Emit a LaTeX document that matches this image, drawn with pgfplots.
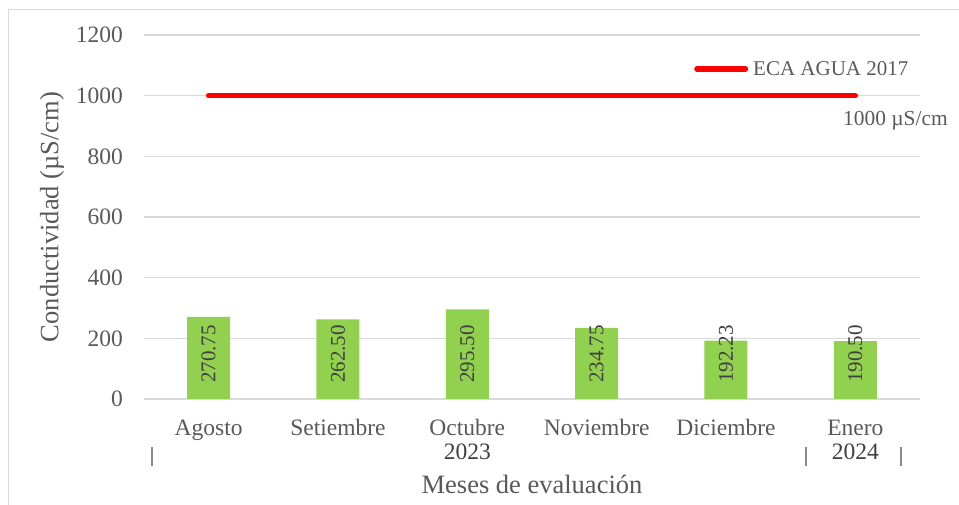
\documentclass[border=0pt]{standalone}
\usepackage{fontspec}
\setmainfont{Liberation Serif}
\usepackage{pgfplots}
\pgfplotsset{compat=1.18}
\definecolor{txt}{HTML}{595959}
\definecolor{gridc}{HTML}{D9D9D9}
\definecolor{bargreen}{HTML}{92D050}
\definecolor{lbl}{HTML}{404040}
\definecolor{sepc}{HTML}{898989}
\begin{document}
\begin{tikzpicture}
\useasboundingbox (-144pt,-106pt) rectangle (815pt,399pt);
\draw[gridc, line width=1pt] (-135pt,-130pt) rectangle (830pt,389pt);
\begin{axis}[
  at={(0pt,0pt)}, anchor=south west,
  scale only axis, width=776pt, height=364pt,
  xmin=-0.5, xmax=5.5, ymin=0, ymax=1200,
  xtick={0,1,2,3,4,5},
  xticklabels={Agosto,Setiembre,Octubre,Noviembre,Diciembre,Enero},
  ytick={0,200,400,600,800,1000,1200},
  ymajorgrids, major grid style={gridc, line width=1.3pt},
  axis line style={draw=none}, major tick length=0pt,
  /pgf/number format/assume math mode=true,
  /pgf/number format/1000 sep={},
  tick label style={font=\fontsize{23.5}{28}\selectfont, text=txt},
  yticklabel style={anchor=east, inner sep=0pt, xshift=-21pt},
  xticklabel style={anchor=base, inner sep=0pt, yshift=-37pt},
  xlabel={Meses de evaluación}, ylabel={Conductividad (µS/cm)},
  label style={font=\fontsize{26.5}{32}\selectfont, text=txt},
  xlabel style={at={(axis description cs:0.5,0)}, anchor=base, inner sep=0pt, yshift=-95pt},
  ylabel style={at={(axis description cs:-0.1186,0.5)}, anchor=center, inner sep=0pt},
  clip=false,
  legend style={at={(0.7088,0.9066)}, anchor=west, draw=none, fill=none, inner sep=0pt,
    font=\fontsize{21}{25}\selectfont, text=txt, nodes={inner sep=0pt}},
  legend cell align=left,
  legend image code/.code={\draw[#1, line cap=round] (2.75pt,0pt) -- (51.25pt,0pt);},
]
\addplot[ybar, bar width=43pt, fill=bargreen, draw=none, forget plot]
  coordinates {(0,270.75) (1,262.50) (2,295.50) (3,234.75) (4,192.23) (5,190.50)};
\addplot[draw=none, no marks, forget plot, nodes near coords, point meta=explicit symbolic,
  every node near coord/.append style={font=\fontsize{21}{25}\selectfont, text=lbl,
    inner sep=0pt, yshift=16pt, rotate=90, anchor=west}]
  coordinates {(0,0) [270.75] (1,0) [262.50] (2,0) [295.50] (3,0) [234.75] (4,0) [192.23] (5,0) [190.50]};
\addplot[red, line width=5.5pt, line cap=round, mark=none] coordinates {(0,1000) (5,1000)};
\addlegendentry{\hspace{5pt}ECA AGUA 2017}
\node[anchor=base west, font=\fontsize{21.4}{25}\selectfont, text=txt, inner sep=0pt]
  at (axis cs:4.905,903) {1000 µS/cm};
\node[anchor=base, font=\fontsize{23.5}{28}\selectfont, text=lbl, inner sep=0pt]
  at ([yshift=-61pt]axis cs:2,0) {2023};
\node[anchor=base, font=\fontsize{23.5}{28}\selectfont, text=lbl, inner sep=0pt]
  at ([yshift=-61pt]axis cs:5,0) {2024};
\draw[sepc, line width=1.3pt] ([yshift=-48pt]axis cs:-0.438,0) -- ([yshift=-67pt]axis cs:-0.438,0);
\draw[sepc, line width=1.3pt] ([yshift=-48pt]axis cs:4.619,0) -- ([yshift=-67pt]axis cs:4.619,0);
\draw[sepc, line width=1.3pt] ([yshift=-48pt]axis cs:5.353,0) -- ([yshift=-67pt]axis cs:5.353,0);
\end{axis}
\end{tikzpicture}
\end{document}
